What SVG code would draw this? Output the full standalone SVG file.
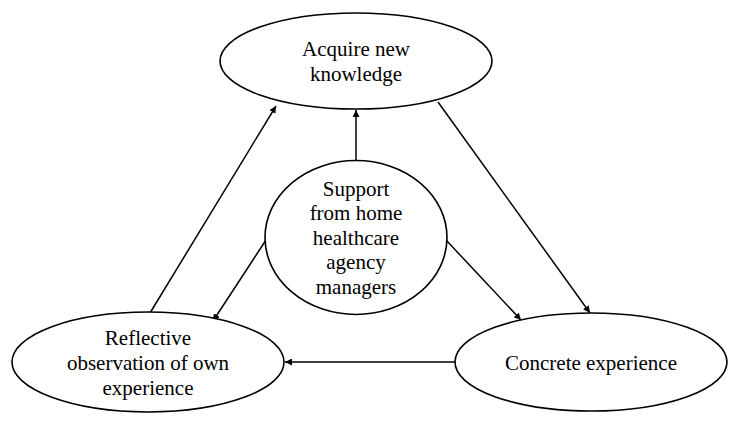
<svg xmlns="http://www.w3.org/2000/svg" width="744" height="427" viewBox="0 0 744 427">
<style>
.n{fill:#fff;stroke:#000;stroke-width:1.6}
.t{font-family:"Liberation Serif","Times New Roman",serif;font-size:21px;fill:#000;text-anchor:middle}
.c{stroke:#000;stroke-width:1.5;fill:none;marker-end:url(#ah)}
</style>
<defs>
<marker id="ah" viewBox="0 0 10 10" refX="10" refY="5" markerWidth="7" markerHeight="7" markerUnits="userSpaceOnUse" orient="auto">
<path d="M0,0 L10,5 L0,10 z" fill="#000"/>
</marker>
</defs>
<rect width="744" height="427" fill="#fff"/>
<g id="connectors">
<line class="c" x1="356" y1="161" x2="356" y2="110"/>
<line class="c" x1="150" y1="313" x2="276" y2="106"/>
<line class="c" x1="438" y1="102" x2="590" y2="313"/>
<line class="c" x1="266" y1="240" x2="213" y2="321"/>
<line class="c" x1="446" y1="240" x2="521" y2="320"/>
<line class="c" x1="455" y1="362" x2="285" y2="362"/>
</g>
<g id="acquire">
<ellipse class="n" cx="356" cy="61" rx="136" ry="48"/>
<text class="t" x="356" y="56">Acquire new</text>
<text class="t" x="356" y="81">knowledge</text>
</g>
<g id="support">
<ellipse class="n" cx="356" cy="237.5" rx="91" ry="77"/>
<text class="t" x="356" y="196">Support</text>
<text class="t" x="356" y="220">from home</text>
<text class="t" x="356" y="245">healthcare</text>
<text class="t" x="356" y="269">agency</text>
<text class="t" x="356" y="294">managers</text>
</g>
<g id="reflective">
<ellipse class="n" cx="148" cy="362" rx="136" ry="50"/>
<text class="t" x="148" y="345">Reflective</text>
<text class="t" x="148" y="370">observation of own</text>
<text class="t" x="148" y="395">experience</text>
</g>
<g id="concrete">
<ellipse class="n" cx="591" cy="362" rx="136" ry="49"/>
<text class="t" x="591" y="370">Concrete experience</text>
</g>
</svg>
